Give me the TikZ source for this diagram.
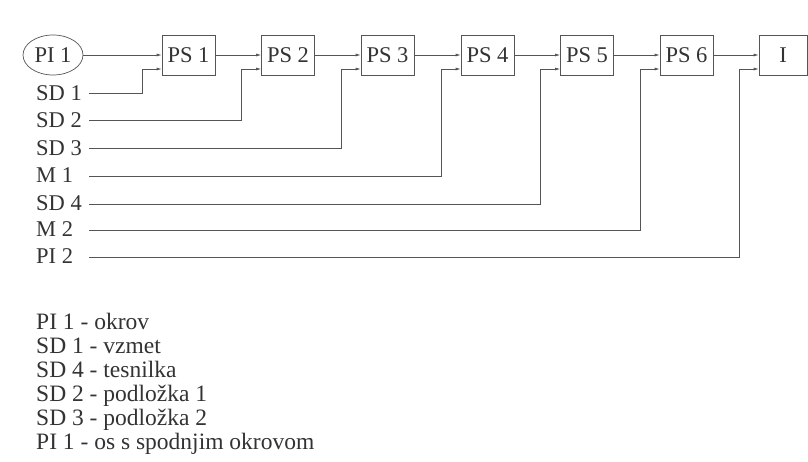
\documentclass[tikz,border=0pt]{standalone}
\usepackage{fontspec}
\setmainfont{Liberation Serif}
\usetikzlibrary{shapes.geometric,arrows.meta,calc}
\definecolor{ink}{HTML}{333333}
\definecolor{wire}{HTML}{555555}
\tikzset{
  stage/.style={draw=wire,line width=0.7pt,minimum width=53pt,minimum height=40pt,inner sep=0pt,text=ink,font=\fontsize{22.5}{26}\selectfont},
  partin/.style={draw=wire,line width=0.7pt,ellipse,minimum width=60pt,minimum height=40pt,inner sep=0pt,text=ink,font=\fontsize{22.5}{26}\selectfont},
  lbl/.style={anchor=west,inner sep=0pt,text=ink,font=\fontsize{22.5}{26}\selectfont},
  legend/.style={anchor=base west,inner sep=0pt,text=ink,font=\fontsize{23.5}{28}\selectfont},
  arr/.style={draw=wire,line width=0.7pt,-{Latex[length=5pt,width=3pt]}}
}
\begin{document}
\begin{tikzpicture}[x=1pt,y=-1pt]
\useasboundingbox (0,0) rectangle (808,462);
\fill[white] (0,0) rectangle (808,462);
% chain
\node[partin] (pi1) at (53,55) {PI 1};
\node[stage] (ps1) at (188.5,55) {PS 1};
\node[stage] (ps2) at (288,55) {PS 2};
\node[stage] (ps3) at (387.5,55) {PS 3};
\node[stage] (ps4) at (487.5,55) {PS 4};
\node[stage] (ps5) at (587,55) {PS 5};
\node[stage] (ps6) at (686.5,55) {PS 6};
\node[stage,minimum width=48pt] (iend) at (783,55) {I};
\draw[arr] (pi1.east) -- (ps1.west);
\draw[arr] (ps1.east) -- (ps2.west);
\draw[arr] (ps2.east) -- (ps3.west);
\draw[arr] (ps3.east) -- (ps4.west);
\draw[arr] (ps4.east) -- (ps5.west);
\draw[arr] (ps5.east) -- (ps6.west);
\draw[arr] (ps6.east) -- (iend.west);
% side inputs
\node[lbl] (sd1) at (36,93) {SD 1};
\node[lbl] (sd2) at (36,120) {SD 2};
\node[lbl] (sd3) at (36,148) {SD 3};
\node[lbl] (m1) at (36,175) {M 1};
\node[lbl] (sd4) at (36,203) {SD 4};
\node[lbl] (m2) at (36,229) {M 2};
\node[lbl] (pi2) at (36,256) {PI 2};
\coordinate (a1) at (89,93);
\coordinate (a2) at (89,120);
\coordinate (a3) at (89,148);
\coordinate (a4) at (89,176);
\coordinate (a5) at (89,204);
\coordinate (a6) at (89,230);
\coordinate (a7) at (89,257);
\foreach \s/\t in {a1/ps1,a2/ps2,a3/ps3,a4/ps4,a5/ps5,a6/ps6,a7/iend}{
  \draw[arr] (\s) -| ($(\t.west)+(-19.5,14)$) -- ($(\t.west)+(0,14)$);
}
% legend
\node[legend] (l1) at (36,329) {PI 1 - okrov};
\node[legend] (l2) at (36,353) {SD 1 - vzmet};
\node[legend] (l3) at (36,377) {SD 4 - tesnilka};
\node[legend] (l4) at (36,401) {SD 2 - podložka 1};
\node[legend] (l5) at (36,425) {SD 3 - podložka 2};
\node[legend] (l6) at (36,449) {PI 1 - os s spodnjim okrovom};
\end{tikzpicture}
\end{document}
